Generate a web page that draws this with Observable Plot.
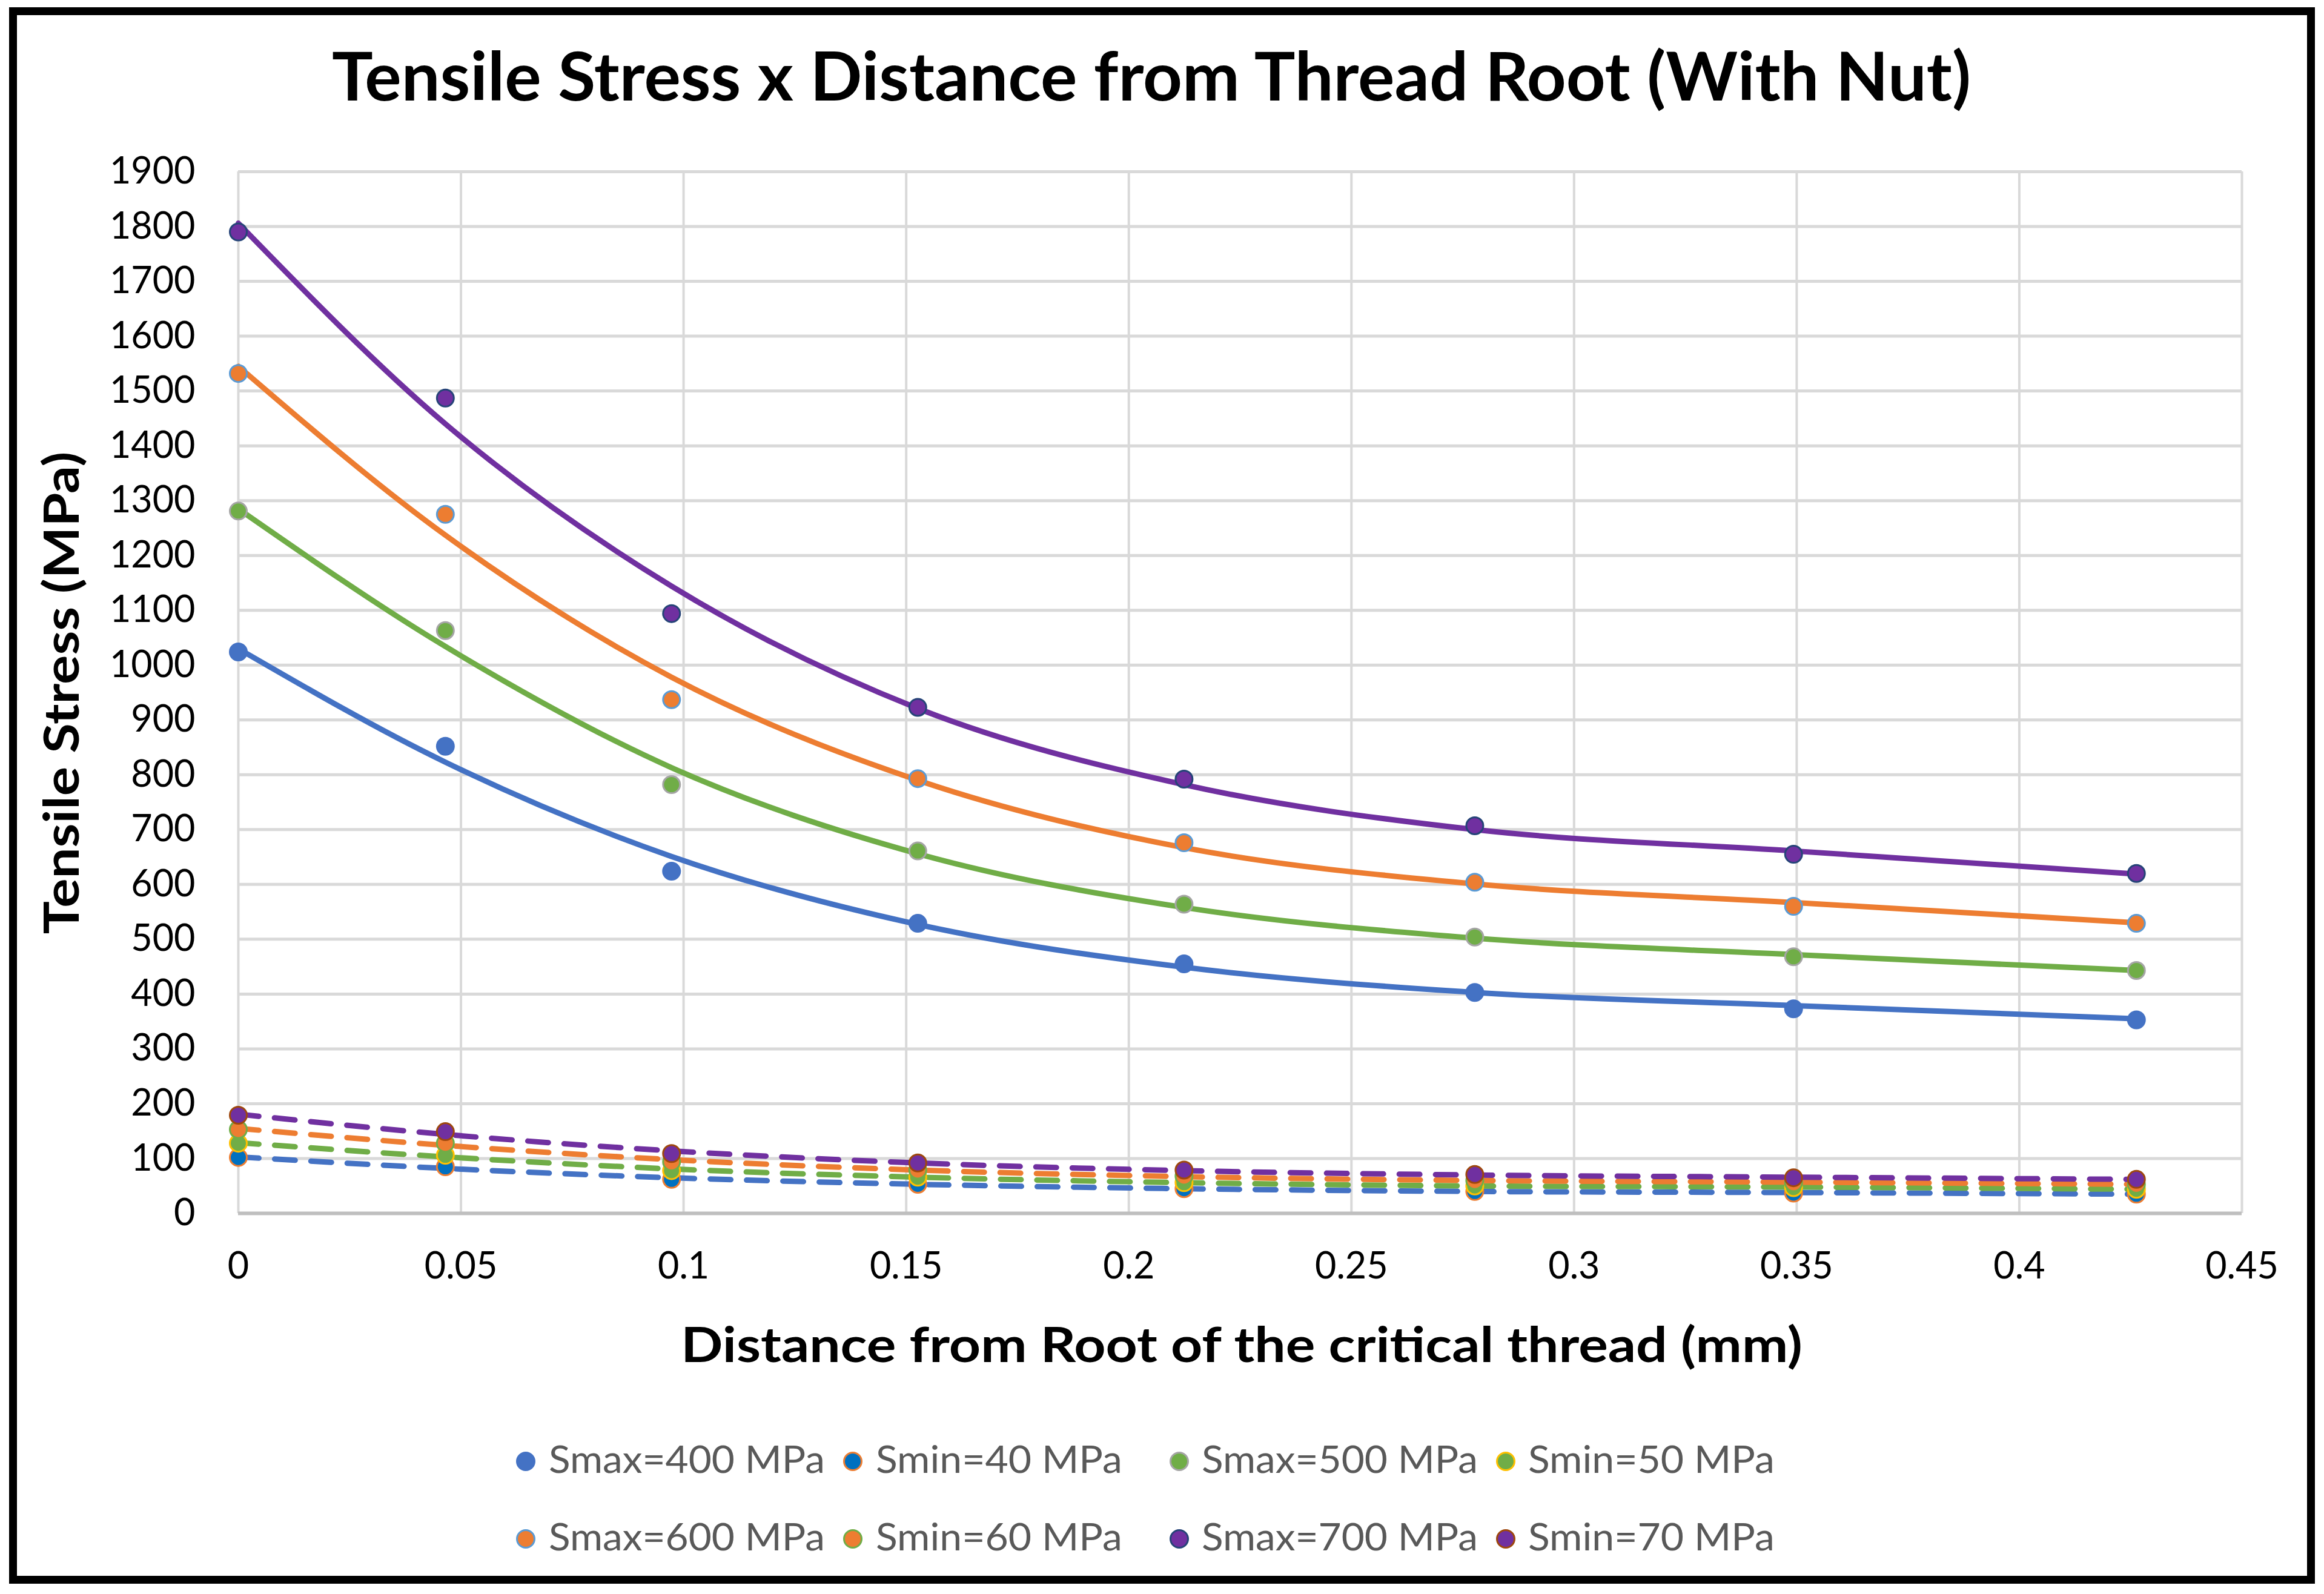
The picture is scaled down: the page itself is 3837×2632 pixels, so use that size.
<!DOCTYPE html>
<html>
<head>
<meta charset="utf-8">
<script src="https://cdn.jsdelivr.net/npm/d3@7"></script>
<script src="https://cdn.jsdelivr.net/npm/@observablehq/plot@0.6"></script>
<style>
html, body { margin: 0; padding: 0; background: #fff; }
#root { position: relative; width: 3837px; height: 2632px; overflow: hidden; background: #fff; font-family: Lato, "Open Sans", sans-serif; }
.abs { position: absolute; white-space: nowrap; line-height: 1; }
#chart { position: absolute; left: 0; top: 0; }
.sw { position: absolute; box-sizing: border-box; border-radius: 50%; }
</style>
</head>
<body>
<div id="root"></div>
<script>
// ---------- data ----------
const distance = [0, 0.0465, 0.0973, 0.1526, 0.2124, 0.2777, 0.3493, 0.4263];

const seriesNames = ["Smax=400 MPa", "Smin=40 MPa", "Smax=500 MPa", "Smin=50 MPa",
                     "Smax=600 MPa", "Smin=60 MPa", "Smax=700 MPa", "Smin=70 MPa"];

// measured points
const smax400 = [1024, 852, 624, 529, 455, 403, 373, 353];
const smin40  = [102, 85, 62, 53, 45, 40, 37, 35];
const smax500 = [1281, 1063, 782, 661, 564, 504, 468, 443];
const smin50  = [128, 106, 78, 66, 56, 50, 47, 44];
const smax600 = [1532, 1275, 937, 793, 676, 604, 560, 529];
const smin60  = [153, 128, 94, 79, 68, 60, 56, 53];
const smax700 = [1790, 1487, 1094, 923, 792, 707, 655, 620];
const smin70  = [179, 149, 109, 92, 79, 71, 65, 62];

// trendline values at the same distances
const trend400 = [1030, 823, 651, 527, 449, 403, 379, 355];
const trend40  = [103, 82, 65, 53, 45, 40, 38, 35];
const trend500 = [1285, 1034, 813, 656, 558, 502, 472, 443];
const trend50  = [129, 103, 81, 66, 56, 50, 48, 44];
const trend600 = [1545, 1237, 978, 790, 667, 601, 567, 530];
const trend60  = [155, 124, 98, 79, 67, 60, 57, 53];
const trend700 = [1806, 1440, 1144, 921, 782, 700, 661, 619];
const trend70  = [181, 144, 114, 92, 78, 70, 66, 62];

const xTicks = [0, 0.05, 0.1, 0.15, 0.2, 0.25, 0.3, 0.35, 0.4, 0.45];
const xTickLabels = ["0", "0.05", "0.1", "0.15", "0.2", "0.25", "0.3", "0.35", "0.4", "0.45"];
const yTicks = [0, 100, 200, 300, 400, 500, 600, 700, 800, 900, 1000, 1100, 1200, 1300, 1400, 1500, 1600, 1700, 1800, 1900];
const yTickLabels = ["0", "100", "200", "300", "400", "500", "600", "700", "800", "900", "1000", "1100", "1200", "1300", "1400", "1500", "1600", "1700", "1800", "1900"];

const titleText = "Tensile Stress x Distance from Thread Root (With Nut)";
const xLabelText = "Distance from Root of the critical thread (mm)";
const yLabelText = "Tensile Stress (MPa)";

// ---------- styles ----------
const markerFill   = ["#4472C4", "#0070C0", "#70AD47", "#70AD47", "#ED7D31", "#ED7D31", "#7030A0", "#7030A0"];
const markerStroke = ["#4472C4", "#ED7D31", "#A5A5A5", "#FFC000", "#5B9BD5", "#70AD47", "#264478", "#9E480E"];
const lineColor    = ["#4472C4", "#4472C4", "#70AD47", "#70AD47", "#ED7D31", "#ED7D31", "#7030A0", "#7030A0"];
const dashed       = [false, true, false, true, false, true, false, true];

const pointValues = [smax400, smin40, smax500, smin50, smax600, smin60, smax700, smin70];
const trendValues = [trend400, trend40, trend500, trend50, trend600, trend60, trend700, trend70];

const points = pointValues.flatMap((vals, i) =>
  vals.map((v, j) => ({series: seriesNames[i], k: i, x: distance[j], y: v})));

const trendMarks = trendValues.map((vals, i) =>
  Plot.line(vals.map((v, j) => ({x: distance[j], y: v})), {
    x: "x", y: "y",
    stroke: lineColor[i],
    strokeWidth: 9,
    strokeDasharray: dashed[i] ? "34,26" : undefined,
    curve: "monotone-x"
  }));

const W = 3837, H = 2632;
const chart = Plot.plot({
  width: W, height: H,
  marginLeft: 393, marginRight: 136, marginTop: 283, marginBottom: 629,
  style: {fontFamily: "Lato, 'Open Sans', sans-serif", fontSize: "61px", color: "#000", background: "transparent", overflow: "visible"},
  x: {domain: [0, 0.45], ticks: xTicks, tickFormat: d => xTickLabels[xTicks.indexOf(d)], tickSize: 0, tickPadding: 64, label: null},
  y: {domain: [0, 1900], ticks: yTicks, tickFormat: d => yTickLabels[yTicks.indexOf(d)], tickSize: 0, tickPadding: 71, label: null},
  color: {type: "identity"},
  marks: [
    Plot.gridX(xTicks, {stroke: "#D9D9D9", strokeOpacity: 1, strokeWidth: 4}),
    Plot.gridY(yTicks, {stroke: "#D9D9D9", strokeOpacity: 1, strokeWidth: 5}),
    Plot.ruleY([0], {stroke: "#BFBFBF", strokeWidth: 6}),
    ...trendMarks,
    Plot.dot(points, {x: "x", y: "y", r: 14, fill: d => markerFill[d.k], stroke: d => markerStroke[d.k], strokeWidth: 3})
  ]
});
chart.id = "chart";

const root = document.getElementById("root");
root.appendChild(chart);

// outer frame
const frame = document.createElement("div");
frame.style.cssText = "position:absolute;left:15px;top:12px;width:3807px;height:2603px;border:13px solid #000;box-sizing:border-box;";
root.appendChild(frame);

function addText(text, opts) {
  const el = document.createElement("div");
  el.className = "abs";
  el.textContent = text;
  el.style.fontSize = opts.size + "px";
  el.style.fontWeight = opts.weight || 400;
  el.style.color = opts.color || "#000";
  el.style.left = opts.left + "px";
  el.style.top = opts.top + "px";
  root.appendChild(el);
  const w = el.offsetWidth;
  const k = opts.target ? opts.target / w : 1;
  if (opts.anchor === "center") {
    el.style.transform = `translate(-50%,-50%) ${opts.rotate ? "rotate(-90deg) " : ""}scaleX(${k})`;
  } else {
    el.style.transformOrigin = "left center";
    el.style.transform = `translateY(-50%) scaleX(${k})`;
  }
  return el;
}

function buildText() {
  addText(titleText, {size: 111, weight: 700, left: 1901, top: 123, target: 2706, anchor: "center"});
  addText(xLabelText, {size: 81, weight: 700, left: 2050, top: 2217, target: 1852, anchor: "center"});
  addText(yLabelText, {size: 81, weight: 700, left: 98, top: 1144, target: 797, anchor: "center", rotate: true});

  // legend
  const colMarker = [868, 1408, 1947, 2486];
  const colText = [906, 1446, 1984, 2523];
  const rowY = [2410, 2538];
  seriesNames.forEach((name, i) => {
    const row = Math.floor(i / 4), col = i % 4;
    const sw = document.createElement("div");
    sw.className = "sw";
    const d = 32;
    sw.style.left = (colMarker[col] - d / 2) + "px";
    sw.style.top = (rowY[row] + 3 - d / 2) + "px";
    sw.style.width = d + "px";
    sw.style.height = d + "px";
    sw.style.background = markerFill[i];
    sw.style.border = "3px solid " + markerStroke[i];
    root.appendChild(sw);
    addText(name, {size: 62, color: "#595959", left: colText[col], top: rowY[row] - 2,
                   target: name.startsWith("Smax") ? 456 : 407, anchor: "left"});
  });
}

if (document.fonts && document.fonts.ready) {
  document.fonts.ready.then(buildText);
} else {
  buildText();
}
</script>
</body>
</html>
